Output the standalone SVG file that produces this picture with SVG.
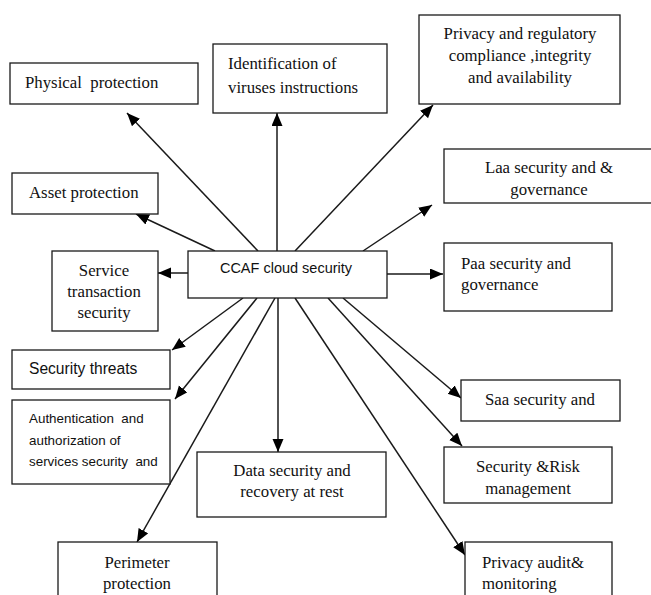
<svg xmlns="http://www.w3.org/2000/svg" width="651" height="595" viewBox="0 0 651 595">
<style>
rect.b{fill:#fff;stroke:#1a1a1a;stroke-width:1.3}
.s{font-family:"Liberation Serif","Times New Roman",serif;font-size:16.8px;fill:#111}
.ss{font-family:"Liberation Sans",Arial,sans-serif;fill:#111}
.m{text-anchor:middle}
#connectors line{stroke:#1a1a1a;stroke-width:1.5;marker-end:url(#ah)}
</style>
<defs>
<marker id="ah" markerUnits="userSpaceOnUse" markerWidth="14" markerHeight="12" refX="13" refY="5.5" orient="auto">
<path d="M0,0 L13,5.5 L0,11 Z" fill="#000"/>
</marker>
</defs>
<rect width="651" height="595" fill="#fff"/>
<g id="connectors">
<line x1="258" y1="251" x2="127" y2="113"/>
<line x1="215" y1="251" x2="136" y2="214"/>
<line x1="277" y1="251" x2="277" y2="113"/>
<line x1="295" y1="251" x2="433" y2="105"/>
<line x1="363" y1="251" x2="432" y2="205"/>
<line x1="387" y1="274" x2="443" y2="274"/>
<line x1="188" y1="273" x2="158" y2="273"/>
<line x1="243" y1="298" x2="172" y2="350"/>
<line x1="257" y1="298" x2="175" y2="399"/>
<line x1="275" y1="298" x2="137" y2="542"/>
<line x1="278" y1="298" x2="278" y2="452"/>
<line x1="343" y1="298" x2="461" y2="398"/>
<line x1="328" y1="298" x2="462" y2="446"/>
<line x1="295" y1="298" x2="465" y2="555"/>
</g>
<g id="ccaf">
<rect class="b" x="188" y="251" width="199" height="47"/>
<text class="ss m" x="286" y="273" font-size="14.5">CCAF cloud security</text>
</g>
<g id="physical">
<rect class="b" x="10" y="63" width="188" height="41"/>
<text class="s" x="25" y="88" xml:space="preserve">Physical  protection</text>
</g>
<g id="asset">
<rect class="b" x="12" y="173" width="146" height="41"/>
<text class="s" x="29" y="198">Asset protection</text>
</g>
<g id="identification">
<rect class="b" x="213" y="44" width="174" height="69"/>
<text class="s" x="228" y="69">Identification of</text>
<text class="s" x="228" y="93">viruses instructions</text>
</g>
<g id="privacy">
<rect class="b" x="419" y="15" width="201" height="89"/>
<text class="s m" x="520" y="39">Privacy and regulatory</text>
<text class="s m" x="520" y="61">compliance ,integrity</text>
<text class="s m" x="520" y="83">and availability</text>
</g>
<g id="laa">
<rect class="b" x="444" y="149" width="210" height="54"/>
<text class="s m" x="549" y="173">Laa security and &amp;</text>
<text class="s m" x="549" y="195">governance</text>
</g>
<g id="paa">
<rect class="b" x="444" y="243" width="168" height="68"/>
<text class="s" x="461" y="269">Paa security and</text>
<text class="s" x="461" y="290">governance</text>
</g>
<g id="service">
<rect class="b" x="52" y="251" width="106" height="80"/>
<text class="s m" x="104" y="276">Service</text>
<text class="s m" x="104" y="297">transaction</text>
<text class="s m" x="104" y="318">security</text>
</g>
<g id="threats">
<rect class="b" x="12" y="350" width="158" height="39"/>
<text class="ss" x="29" y="374" font-size="15.6">Security threats</text>
</g>
<g id="authentication">
<rect class="b" x="12" y="400" width="158" height="84"/>
<text class="ss" x="29" y="423" font-size="13.4" xml:space="preserve">Authentication  and</text>
<text class="ss" x="29" y="445" font-size="13.4">authorization of</text>
<text class="ss" x="29" y="466" font-size="13.4" xml:space="preserve">services security  and</text>
</g>
<g id="perimeter">
<rect class="b" x="58" y="542" width="159" height="60"/>
<text class="s m" x="137" y="568">Perimeter</text>
<text class="s m" x="137" y="589">protection</text>
</g>
<g id="data">
<rect class="b" x="197" y="452" width="189" height="65"/>
<text class="s m" x="292" y="476">Data security and</text>
<text class="s m" x="292" y="497">recovery at rest</text>
</g>
<g id="saa">
<rect class="b" x="461" y="380" width="159" height="41"/>
<text class="s" x="485" y="405">Saa security and</text>
</g>
<g id="risk">
<rect class="b" x="444" y="447" width="168" height="56"/>
<text class="s m" x="528" y="472">Security &amp;Risk</text>
<text class="s m" x="528" y="494">management</text>
</g>
<g id="audit">
<rect class="b" x="465" y="542" width="147" height="60"/>
<text class="s" x="482" y="568">Privacy audit&amp;</text>
<text class="s" x="482" y="589">monitoring</text>
</g>
</svg>
